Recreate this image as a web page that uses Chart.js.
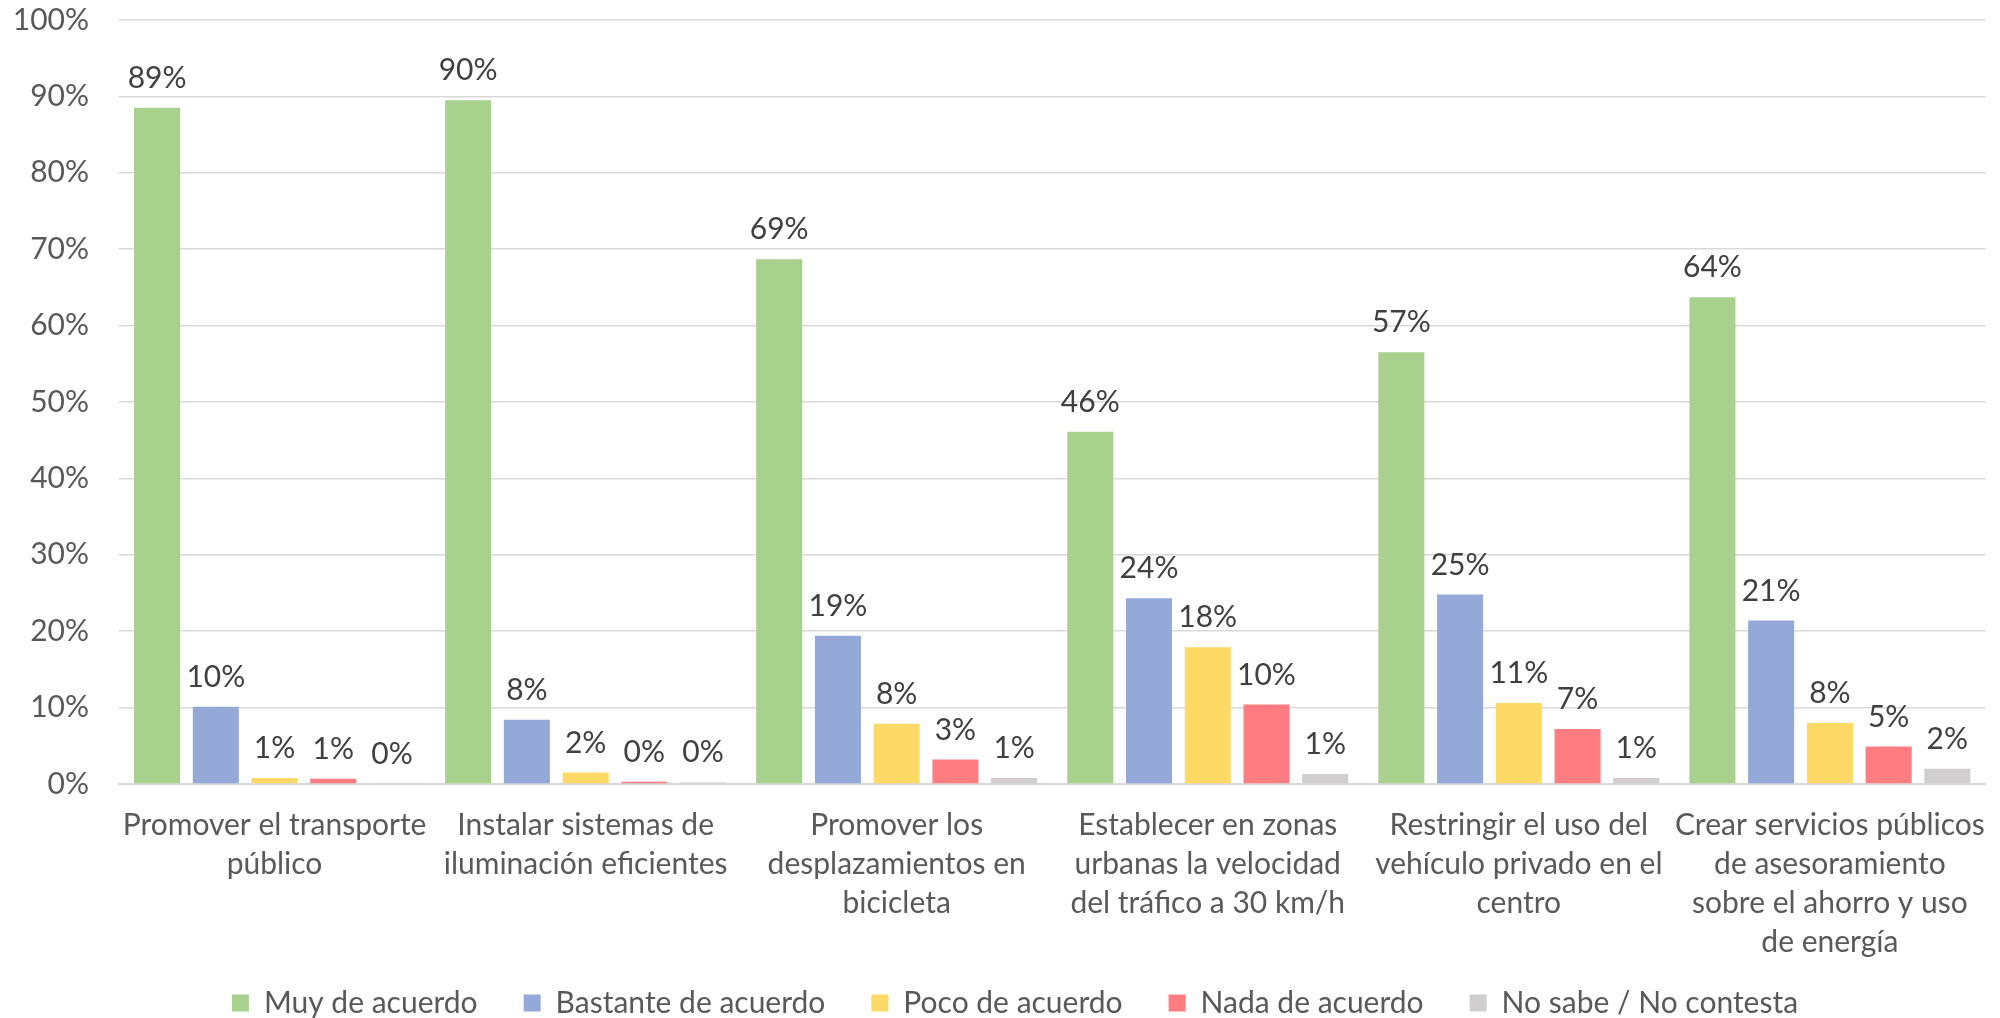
<!DOCTYPE html>
<html>
<head>
<meta charset="utf-8">
<script src="https://cdn.jsdelivr.net/npm/chart.js@4.4.0/dist/chart.umd.min.js"></script>
<style>
  html, body { margin: 0; padding: 0; background: #fff; }
  #wrap { width: 2000px; height: 1018px; }
</style>
</head>
<body>
<div id="wrap"><canvas id="graficoMedidas" width="2000" height="1018"></canvas></div>
<script>
// ---- datos del gráfico

const categorias = [
    ["Promover el transporte", "público"],
    ["Instalar sistemas de", "iluminación eficientes"],
    ["Promover los", "desplazamientos en", "bicicleta"],
    ["Establecer en zonas", "urbanas la velocidad", "del tráfico a 30 km/h"],
    ["Restringir el uso del", "vehículo privado en el", "centro"],
    ["Crear servicios públicos", "de asesoramiento", "sobre el ahorro y uso", "de energía"]
];

const muyDeAcuerdo      = [88.5, 89.5, 68.7, 46.1, 56.5, 63.7];
const bastanteDeAcuerdo = [10.1, 8.4, 19.4, 24.3, 24.8, 21.4];
const pocoDeAcuerdo     = [0.8, 1.5, 7.9, 17.9, 10.6, 8.0];
const nadaDeAcuerdo     = [0.7, 0.3, 3.2, 10.4, 7.2, 4.9];
const noSabe            = [0.0, 0.2, 0.8, 1.3, 0.8, 2.0];

const ticksY = [0, 10, 20, 30, 40, 50, 60, 70, 80, 90, 100];

const fuente = "Lato, 'Open Sans', sans-serif";

// ---- etiquetas de valor encima de cada barra
const etiquetasValor = {
    id: 'etiquetasValor',
    afterDatasetsDraw(chart) {
        const ctx = chart.ctx;
        ctx.save();
        ctx.font = "30px " + fuente;
        ctx.fillStyle = "#404040";
        ctx.textAlign = "center";
        ctx.textBaseline = "alphabetic";
        chart.data.datasets.forEach((ds, i) => {
            const meta = chart.getDatasetMeta(i);
            meta.data.forEach((barra, j) => {
                ctx.fillText(Math.round(ds.data[j]) + "%", barra.x, barra.y - 20);
            });
        });
        ctx.restore();
    }
};

// ---- ajustes finos del layout (eje x mas alto para la 4a linea, eje y sin recorte, leyenda mas abajo)
const ajustarLayout = {
    id: 'ajustarLayout',
    afterLayout(chart) {
        chart.scales.x.bottom = chart.height;
        chart.scales.y.left = 0;
        chart.legend.top += 10;
        chart.legend.bottom += 10;
    }
};

const ctx = document.getElementById('graficoMedidas').getContext('2d');
let graficoMedidas = new Chart(ctx, {
    type: 'bar',
    data: {
        labels: categorias,
        datasets: [
            { label: 'Muy de acuerdo', data: muyDeAcuerdo, backgroundColor: '#A9D18E' },
            { label: 'Bastante de acuerdo', data: bastanteDeAcuerdo, backgroundColor: '#95A9D9' },
            { label: 'Poco de acuerdo', data: pocoDeAcuerdo, backgroundColor: '#FFD966' },
            { label: 'Nada de acuerdo', data: nadaDeAcuerdo, backgroundColor: '#FF7C80' },
            { label: 'No sabe / No contesta', data: noSabe, backgroundColor: '#D0CECE' }
        ]
    },
    options: {
        responsive: false,
        animation: false,
        categoryPercentage: 0.944,
        barPercentage: 0.784,
        layout: { padding: { left: 44, right: 14, top: 20, bottom: 0 } },
        plugins: {
            tooltip: { enabled: false },
            legend: {
                position: 'bottom',
                labels: {
                    font: { family: fuente, size: 30 },
                    color: '#595959',
                    boxWidth: 17,
                    boxHeight: 17,
                    padding: 46
                }
            }
        },
        scales: {
            x: {
                grid: { display: false },
                border: { color: '#D9D9D9', width: 2 },
                ticks: {
                    color: '#595959',
                    font: { family: fuente, size: 30, lineHeight: 1.3 },
                    padding: 14,
                    maxRotation: 0,
                    autoSkip: false
                },
                afterFit(scale) { scale.height = 148; }
            },
            y: {
                min: 0,
                max: 100,
                afterBuildTicks(scale) { scale.ticks = ticksY.map(v => ({ value: v })); },
                grid: { color: '#D9D9D9', lineWidth: 1.5, drawTicks: false },
                border: { display: false },
                ticks: {
                    color: '#595959',
                    font: { family: fuente, size: 30 },
                    padding: 30,
                    callback: v => v + '%'
                },
                afterFit(scale) {
                    scale.width = 75;
                    scale.paddingTop = 0;
                    scale.paddingBottom = 0;
                }
            }
        }
    },
    plugins: [etiquetasValor, ajustarLayout]
});
</script>
</body>
</html>
